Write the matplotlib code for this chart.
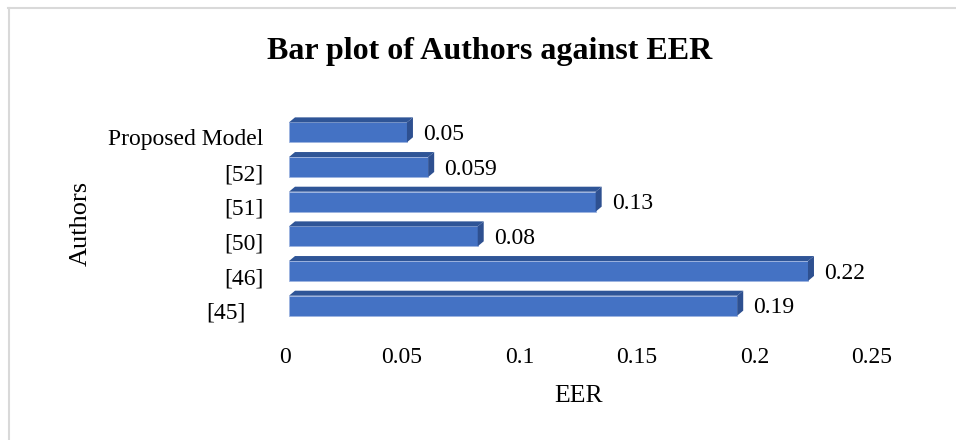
import matplotlib
matplotlib.use("Agg")
import matplotlib.pyplot as plt
from matplotlib.patches import Polygon
from matplotlib.lines import Line2D
from matplotlib.transforms import ScaledTranslation

categories = ["[45]", "[46]", "[50]", "[51]", "[52]", "Proposed Model"]
eer_values = [0.19, 0.22, 0.08, 0.13, 0.059, 0.05]
value_labels = ["0.19", "0.22", "0.08", "0.13", "0.059", "0.05"]
x_ticks = [0, 0.05, 0.1, 0.15, 0.2, 0.25]
x_tick_labels = ["0", "0.05", "0.1", "0.15", "0.2", "0.25"]

plt.rcParams['font.family'] = ['Liberation Serif', 'DejaVu Serif']

W, H, DPI = 956, 440, 100
fig = plt.figure(figsize=(W / DPI, H / DPI), dpi=DPI)

ax_left, ax_right = 289, 878.75
ax_top, ax_bottom = 115.0, 323.0
ax = fig.add_axes([ax_left / W, 1 - ax_bottom / H, (ax_right - ax_left) / W, (ax_bottom - ax_top) / H])

front = "#4472C4"
top_c = "#2F5597"
side_c = "#2E5090"
bar_h = 0.575

ypos = list(range(len(categories)))
ax.barh(ypos, eer_values, height=bar_h, color=front, edgecolor="#9DB4E0", linewidth=0.6, zorder=3)

ax.set_xlim(0, 0.25)
ax.set_ylim(-0.5, len(categories) - 0.5)

# 3D depth in pixels converted to data units via the axes scale
px_per_x = (ax_right - ax_left) / 0.25
px_per_y = (ax_bottom - ax_top) / len(categories)
dx = 6 / px_per_x
dy = 5 / px_per_y

for y, v in zip(ypos, eer_values):
    yt = y + bar_h / 2
    yb = y - bar_h / 2
    ax.add_patch(Polygon([(0, yt), (v, yt), (v + dx, yt + dy), (dx, yt + dy)],
                         closed=True, facecolor=top_c, edgecolor="none", zorder=4))
    ax.add_patch(Polygon([(v, yb), (v, yt), (v + dx, yt + dy), (v + dx, yb + dy)],
                         closed=True, facecolor=side_c, edgecolor="none", zorder=4))

for y, v, lab in zip(ypos, eer_values, value_labels):
    ax.annotate(lab, xy=(v, y), xytext=(11.5, -1.5), textcoords="offset points",
                ha="left", va="center", fontsize=17, color="black")

ax.set_xticks(x_ticks)
ax.set_xticklabels(x_tick_labels, fontsize=17)
ax.set_yticks(ypos)
ax.set_yticklabels(categories, fontsize=17)
ax.tick_params(axis="both", length=0)
ax.tick_params(axis="x", pad=17.5)
ax.tick_params(axis="y", pad=18.5)
for s in ax.spines.values():
    s.set_visible(False)

for lab in ax.get_yticklabels():
    shift_x = -18 / DPI if lab.get_text() == "[45]" else 0
    lab.set_transform(lab.get_transform() + ScaledTranslation(shift_x, -5 / DPI, fig.dpi_scale_trans))
for lab, tv in zip(ax.get_xticklabels(), x_ticks):
    sx = -(4.5 + 10 * tv) / DPI
    lab.set_transform(lab.get_transform() + ScaledTranslation(sx, 0, fig.dpi_scale_trans))

fig.text(490 / W, 1 - 52 / H, "Bar plot of Authors against EER", ha="center", va="center",
         fontsize=23, fontweight="bold")
fig.text(579 / W, 1 - 402 / H, "EER", ha="center", va="baseline", fontsize=18.5)
fig.text(81 / W, 1 - 223 / H, "Authors", ha="center", va="center", fontsize=19, rotation=90)

# chart frame (top and left visible)
fig.add_artist(Line2D([8 / W, 1], [1 - 8.5 / H, 1 - 8.5 / H], transform=fig.transFigure, color="#D9D9D9", lw=1.5))
fig.add_artist(Line2D([8.5 / W, 8.5 / W], [0, 1 - 8 / H], transform=fig.transFigure, color="#D9D9D9", lw=1.5))

fig.savefig("out.png", dpi=DPI)
